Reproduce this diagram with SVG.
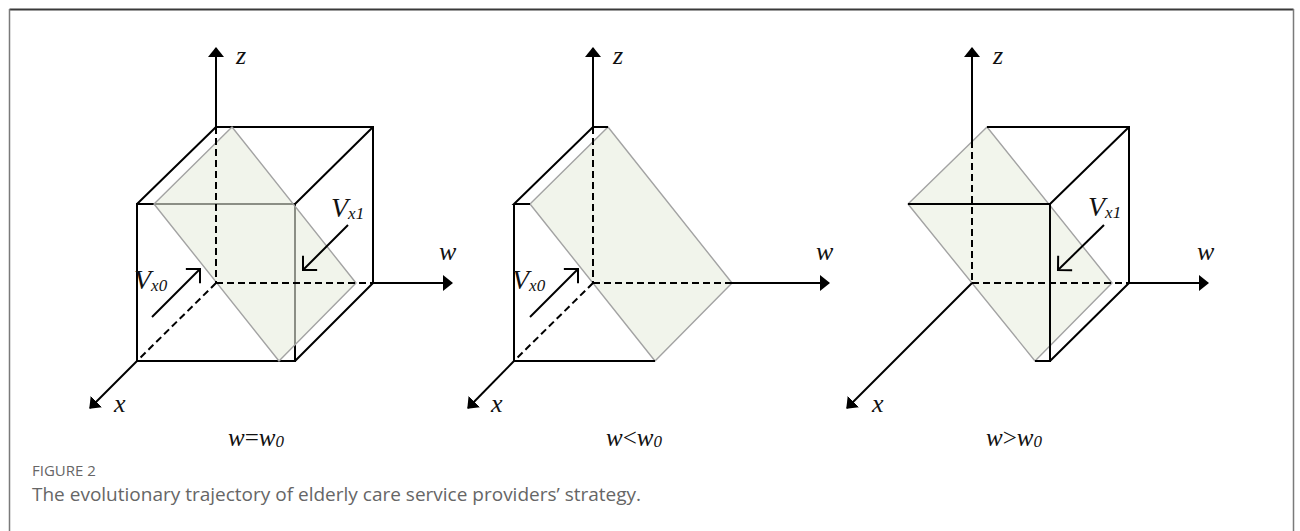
<svg xmlns="http://www.w3.org/2000/svg" width="1300" height="531" viewBox="0 0 1300 531">
<style>
.e{stroke:#000;stroke-width:2;fill:none}
.d{stroke:#000;stroke-width:2;fill:none;stroke-dasharray:7 4}
.ax{stroke:#000;stroke-width:2;fill:none;marker-end:url(#ah)}
.va{stroke:#000;stroke-width:2;fill:none;marker-end:url(#ch)}
.pl{fill:#e8eddd;fill-opacity:0.6;stroke:#a3a3a3;stroke-width:1.4;stroke-linejoin:round}
.pl3{fill:#f2f5ec;stroke:#a3a3a3;stroke-width:1.4;stroke-linejoin:round}
.lb{font-family:"Liberation Serif",serif;font-style:italic;font-size:26px;fill:#111}
.bl{font-family:"Liberation Serif",serif;font-style:italic;font-size:25px;fill:#111}
.vl{font-family:"Liberation Serif",serif;font-style:italic;font-size:28px;fill:#111}
.sb{font-size:17px}
.up{font-style:normal}
.cap{font-family:"Open Sans","Noto Sans",sans-serif;fill:#666}
</style>
<defs>
<marker id="ah" viewBox="0 0 10 16" refX="9" refY="8" markerWidth="10" markerHeight="16" markerUnits="userSpaceOnUse" orient="auto">
<path d="M0,0 L10,8 L0,16 Z" fill="#000"/>
</marker>
<marker id="ch" viewBox="-12 -12 14 24" refX="0" refY="0" markerWidth="14" markerHeight="24" markerUnits="userSpaceOnUse" orient="auto" overflow="visible">
<path d="M-10,-10 L0,0 L-10,10" fill="none" stroke="#000" stroke-width="2"/>
</marker>
</defs>
<rect width="1300" height="531" fill="#fff"/>
<g id="frame">
<line x1="9.5" y1="9.5" x2="1293.5" y2="9.5" stroke="#3a3a3a" stroke-width="2"/>
<line x1="9.5" y1="9" x2="9.5" y2="531" stroke="#7a7a7a" stroke-width="1.5"/>
<line x1="1293.5" y1="9" x2="1293.5" y2="531" stroke="#7a7a7a" stroke-width="1.5"/>
</g>

<g id="panel1">
<g id="cube1">
<path class="e" d="M216,127 H373 V283 M216,127 L137,204 M373,127 L295,204 M373,283 L295,361"/>
<rect class="e" x="137" y="204" width="158" height="157"/>
</g>
<polygon id="plane1" class="pl" points="232,127 154,204 279,361 356,283"/>
<g id="axes1">
<line class="ax" x1="216" y1="127" x2="216" y2="48"/>
<line class="d" x1="216" y1="127" x2="216" y2="283"/>
<line class="d" x1="216" y1="283" x2="373" y2="283"/>
<line class="ax" x1="373" y1="283" x2="452" y2="283"/>
<line class="d" x1="216" y1="283" x2="137" y2="361"/>
<line class="ax" x1="137" y1="361" x2="90" y2="408"/>
</g>
<g id="arrows1">
<line class="va" x1="152" y1="317" x2="200" y2="269"/>
<line class="va" x1="348" y1="225" x2="303" y2="270"/>
</g>
<text class="lb" x="236" y="64">z</text>
<text class="lb" x="439" y="260">w</text>
<text class="lb" x="114" y="412">x</text>
<text class="vl" x="134" y="289">V<tspan class="sb" dy="2">x0</tspan></text>
<text class="vl" x="331" y="217">V<tspan class="sb" dy="2">x1</tspan></text>
<text class="bl" x="228" y="446">w<tspan class="up">=</tspan>w<tspan class="sb" dy="1">0</tspan></text>
</g>

<g id="panel2">
<polygon id="plane2" class="pl" points="608,127 530,204 655,361 732,283"/>
<g id="edges2">
<path class="e" d="M608,127 H593 L514,204 H530 M514,204 V361 H655"/>
</g>
<g id="axes2">
<line class="ax" x1="593" y1="127" x2="593" y2="48"/>
<line class="d" x1="593" y1="127" x2="593" y2="283"/>
<line class="d" x1="593" y1="283" x2="732" y2="283"/>
<line class="ax" x1="732" y1="283" x2="829" y2="283"/>
<line class="d" x1="593" y1="283" x2="514" y2="361"/>
<line class="ax" x1="514" y1="361" x2="468" y2="408"/>
</g>
<line class="va" x1="530" y1="317" x2="578" y2="269"/>
<text class="lb" x="613" y="64">z</text>
<text class="lb" x="816" y="260">w</text>
<text class="lb" x="491" y="412">x</text>
<text class="vl" x="512" y="289">V<tspan class="sb" dy="2">x0</tspan></text>
<text class="bl" x="606" y="446">w<tspan class="up">&lt;</tspan>w<tspan class="sb" dy="1">0</tspan></text>
</g>

<g id="panel3">
<polygon id="plane3" class="pl3" points="987,127 908,204 1035,361 1112,283"/>
<g id="edges3">
<path class="e" d="M987,127 H1129 V283 M1129,127 L1050,204 M908,204 H1050 V361 H1035 M1129,283 L1050,361"/>
</g>
<g id="axes3">
<line class="ax" x1="972" y1="141" x2="972" y2="48"/>
<line class="d" x1="972" y1="141" x2="972" y2="283"/>
<line class="d" x1="972" y1="283" x2="1129" y2="283"/>
<line class="ax" x1="1129" y1="283" x2="1208" y2="283"/>
<line class="ax" x1="972" y1="283" x2="847" y2="408"/>
</g>
<line class="va" x1="1104" y1="225" x2="1058" y2="270"/>
<text class="lb" x="993" y="64">z</text>
<text class="lb" x="1197" y="260">w</text>
<text class="lb" x="872" y="412">x</text>
<text class="vl" x="1088" y="216">V<tspan class="sb" dy="2">x1</tspan></text>
<text class="bl" x="986" y="446">w<tspan class="up">&gt;</tspan>w<tspan class="sb" dy="1">0</tspan></text>
</g>

<g id="caption">
<text class="cap" x="32" y="476" font-size="15" fill="#555">FIGURE 2</text>
<text class="cap" x="32" y="501" font-size="19">The evolutionary trajectory of elderly care service providers’ strategy.</text>
</g>
</svg>
